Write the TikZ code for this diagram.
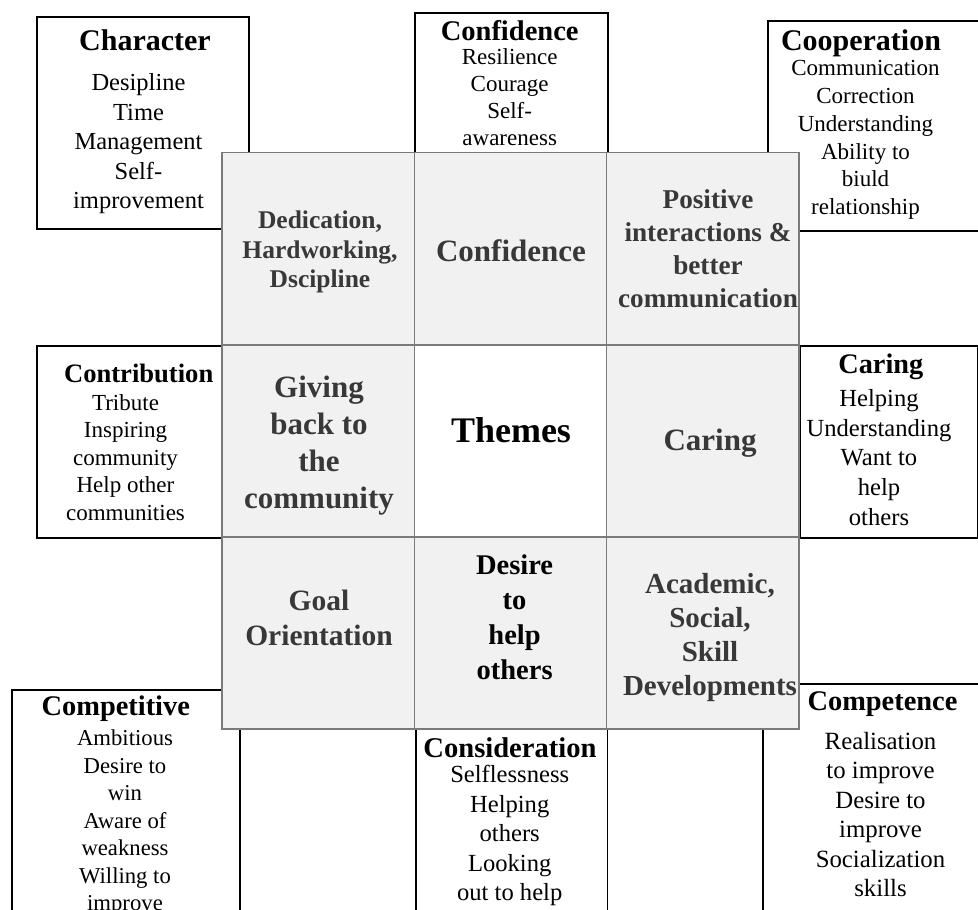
\documentclass[tikz,border=0pt]{standalone}
\usepackage{fontspec}
\setmainfont{Liberation Serif}
\definecolor{gridgray}{HTML}{7A7A7A}
\definecolor{cellgray}{HTML}{F1F1F1}
\definecolor{celltext}{HTML}{383838}
\begin{document}
\begin{tikzpicture}[x=1pt,y=-1pt,
  obox/.style={draw=black, line width=1.6pt, fill=white, inner sep=0pt, anchor=north west},
  cell/.style={draw=gridgray, line width=1.5pt, fill=cellgray, inner sep=0pt,
    minimum width=192.33pt, minimum height=192.1pt},
  ttl/.style={inner sep=0pt, align=center, font=\bfseries\fontsize{#1}{#1}\selectfont},
  body/.style n args={2}{inner sep=0pt, align=center, font=\fontsize{#1}{#2}\selectfont},
  ctext/.style n args={2}{inner sep=0pt, align=center, text=celltext, font=\bfseries\fontsize{#1}{#2}\selectfont},
]
\useasboundingbox (0,0) rectangle (978,910);
\clip (0,0) rectangle (978,910);
\fill[white] (0,0) rectangle (978,910);

% outer boxes
\node[obox, minimum width=212pt, minimum height=212pt] (bchar) at (36,16) {};
\node[obox, minimum width=192.7pt, minimum height=150pt] (bconf) at (414.3,12.3) {};
\node[obox, minimum width=240pt, minimum height=210pt] (bcoop) at (767,20) {};
\node[obox, minimum width=186pt, minimum height=192pt] (bcontr) at (36,345) {};
\node[obox, minimum width=177.7pt, minimum height=192.3pt] (bcar) at (799,345) {};
\node[obox, minimum width=228.3pt, minimum height=280pt] (bcomp) at (11,689) {};
\node[obox, minimum width=191.7pt, minimum height=240pt] (bcons) at (415,720) {};
\node[obox, minimum width=240pt, minimum height=280pt] (bcompe) at (762.3,683.3) {};

% grid
\node[cell] (c11) at (318.17,248.75) {};
\node[cell] (c12) at (510.5,248.75) {};
\node[cell] (c13) at (702.83,248.75) {};
\node[cell] (c21) at (318.17,440.85) {};
\node[cell, fill=white] (c22) at (510.5,440.85) {};
\node[cell] (c23) at (702.83,440.85) {};
\node[cell] (c31) at (318.17,632.95) {};
\node[cell] (c32) at (510.5,632.95) {};
\node[cell] (c33) at (702.83,632.95) {};

% grid texts
\node[ctext={25.5}{29.5}] (t11) at (320,252) {Dedication,\\Hardworking,\\Dscipline};
\node[ctext={31}{37}] (t12) at (511,251) {Confidence};
\node[ctext={27.2}{33}] (t13) at (708,248.5) {Positive\\interactions \&\\better\\communication};
\node[ctext={31}{37}] (t21) at (319,445.5) {Giving\\back to\\the\\community};
\node[ctext={36}{40}, text=black] (t22) at (511,430) {Themes};
\node[ctext={31}{37}] (t23) at (710,443) {Caring};
\node[ctext={29.5}{35.5}] (t31) at (319,618) {Goal\\Orientation};
\node[ctext={28.5}{35}, text=black] (t32) at (514.6,617) {Desire\\to\\help\\others};
\node[ctext={29}{34}] (t33) at (710,638) {Academic,\\Social,\\Skill\\Developments};

% outer box texts
\node[ttl=30] (h1) at (145,40.5) {Character};
\node[body={24.5}{29.5}] (l1) at (138.5,144) {Desipline\\Time\\Management\\Self-\\improvement};

\node[ttl=28.5] (h2) at (509.7,31) {Confidence};
\node[body={23}{27}] (l2) at (509.7,97.5) {Resilience\\Courage\\Self-\\awareness};

\node[ttl=30] (h3) at (861,43) {Cooperation};
\node[body={23}{27.8}] (l3) at (865.5,140) {Communication\\Correction\\Understanding\\Ability to\\biuld\\relationship};

\node[ttl=26.6] (h4) at (138.7,373) {Contribution};
\node[body={23}{27.5}] (l4) at (125.5,457.5) {Tribute\\Inspiring\\community\\Help other\\communities};

\node[ttl=28.3] (h5) at (880.8,367) {Caring};
\node[body={24.6}{29.7}] (l5) at (879,457.5) {Helping\\Understanding\\Want to\\help\\others};

\node[ttl=28.4] (h6) at (115.8,709) {Competitive};
\node[body={22.7}{27.5}, anchor=north] (l6) at (125,730) {Ambitious\\Desire to\\win\\Aware of\\weakness\\Willing to\\improve};

\node[ttl=28.6] (h7) at (510,747.5) {Consideration};
\node[body={24.6}{29.5}] (l7) at (509.7,835.5) {Selflessness\\Helping\\others\\Looking\\out to help};

\node[ttl=28.4] (h8) at (882.5,704) {Competence};
\node[body={24.8}{29.5}] (l8) at (880.5,814.5) {Realisation\\to improve\\Desire to\\improve\\Socialization\\skills};
\end{tikzpicture}
\end{document}
